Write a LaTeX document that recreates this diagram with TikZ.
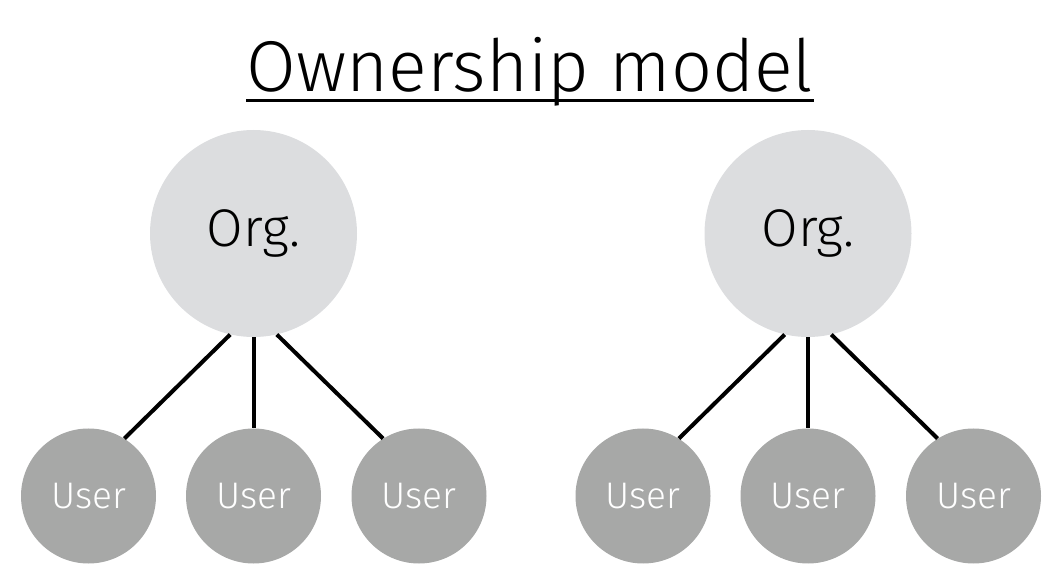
\documentclass[tikz,border=0pt]{standalone}
\usepackage{fontspec}
\setmainfont{Fira Sans Light}
\usepackage{tikz}
\usetikzlibrary{positioning}
\definecolor{orggray}{HTML}{DCDDDF}
\definecolor{usergray}{HTML}{A7A8A7}
\tikzset{
  orgc/.style={circle,fill=orggray,minimum size=207pt,inner sep=0pt,font=\fontsize{53}{53}\selectfont},
  userc/.style={circle,fill=usergray,text=white,minimum size=135pt,inner sep=0pt,font=\fontsize{37}{37}\selectfont},
  tie/.style={line width=4pt,draw=black},
}
\begin{document}
\begin{tikzpicture}[x=1pt,y=1pt]
  \useasboundingbox (0,0) rectangle (1058,584);
  \node[font=\fontsize{72}{72}\selectfont,inner sep=0pt,anchor=base] (title) at (530,492) {Ownership model};
  \draw[line width=3pt] ([yshift=-9pt]title.base west) -- ([yshift=-9pt]title.base east);
  % left group
  \node[orgc] (oa) at (253.5,350.5) {Org.};
  \node[userc] (ua1) at (88.5,88) {User};
  \node[userc] (ua2) at (253.5,88) {User};
  \node[userc] (ua3) at (419,88) {User};
  \draw[tie] (oa.257) -- (ua1.58);
  \draw[tie] (oa.south) -- (ua2.north);
  \draw[tie] (oa.283) -- (ua3.122);
  % right group
  \node[orgc] (ob) at (808,350.5) {Org.};
  \node[userc] (ub1) at (643,88) {User};
  \node[userc] (ub2) at (808,88) {User};
  \node[userc] (ub3) at (973.5,88) {User};
  \draw[tie] (ob.257) -- (ub1.58);
  \draw[tie] (ob.south) -- (ub2.north);
  \draw[tie] (ob.283) -- (ub3.122);
\end{tikzpicture}
\end{document}
